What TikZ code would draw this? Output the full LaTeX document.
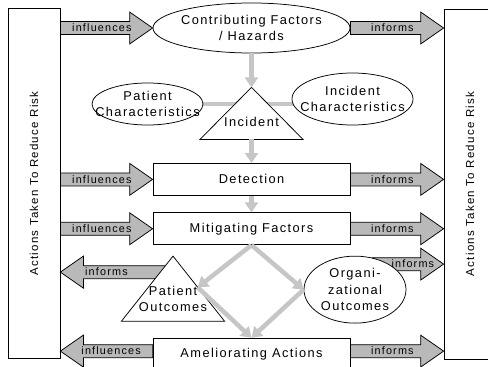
\documentclass[tikz,border=0pt]{standalone}
\usepackage{fontspec}
\setmainfont[LetterSpace=11]{Liberation Sans}
\usepackage{tikz}
\usetikzlibrary{shapes.geometric,arrows.meta,calc}
\pgfdeclarelayer{background}
\pgfdeclarelayer{foreground}
\pgfsetlayers{background,main,foreground}
\newcommand{\nodefont}{\fontsize{12.8}{16.5}\selectfont}
\newcommand{\sidefont}{\fontsize{11.5}{14}\selectfont}
\newcommand{\arrowfont}{\fontsize{10.8}{12}\selectfont}
\tikzstyle{lado}=[draw, line width=0.75pt, minimum width=52pt,
  minimum height=350pt, inner sep=0pt]
\tikzstyle{caja}=[draw, fill=white, line width=0.75pt, minimum width=197pt,
  minimum height=32pt, inner sep=0pt, font=\nodefont]
\tikzstyle{nube}=[draw, ellipse, fill=white, line width=0.75pt,
  inner ysep=0pt, align=center, font=\nodefont]
\tikzstyle{tri}=[draw, fill=white, line width=0.75pt]
\tikzstyle{texto}=[align=center, font=\nodefont, inner sep=0pt]
\tikzstyle{flecha}=[draw, line width=0.75pt, fill=gray!55]
\tikzstyle{flechatexto}=[font=\arrowfont, inner sep=0pt]
\tikzstyle{conector}=[draw, line width=4.5pt, color=gray!45,
  -{Triangle[length=10pt,width=13pt]}]
% fat grey arrow: [label pos]{label name}{from}{to}{text}
\newcommand{\fatarrow}[5][0.45]{%
  \coordinate (fa-s) at (#3);
  \coordinate (fa-e) at (#4);
  \coordinate (fa-h) at ($(fa-e)!23pt!(fa-s)$);
  \begin{pgfonlayer}{background}
    \path [flecha] ($(fa-s)+(0,6.5)$) -- ($(fa-h)+(0,6.5)$)
      -- ($(fa-h)+(0,16)$) -- (fa-e) -- ($(fa-h)+(0,-16)$)
      -- ($(fa-h)+(0,-6.5)$) -- ($(fa-s)+(0,-6.5)$) -- cycle;
  \end{pgfonlayer}
  \begin{pgfonlayer}{foreground}
    \path ($(fa-s)!#1!(fa-e)$) node (#2)[flechatexto] {#5};
  \end{pgfonlayer}}

\begin{document}
\begin{tikzpicture}[x=1pt,y=-1pt]
\useasboundingbox (0,0) rectangle (488,367);

  % Side boxes
\path (34,183.5) node (L)[lado] {};
\path (470,184) node (R)[lado] {};
\path (L) node (Ltxt)[texto, rotate=90, font=\sidefont] {Actions Taken To Reduce Risk};
\path (R) node (Rtxt)[texto, rotate=90, font=\sidefont] {Actions Taken To Reduce Risk};

  % Incident part
\path (251.5,28) node (cf)[nube, minimum width=197pt, minimum height=50pt,
  inner xsep=-4pt] {Contributing Factors\\/ Hazards};
\path (147.5,104) node (pc)[nube, minimum width=111pt, minimum height=42pt,
  inner xsep=-17pt] {Patient\\Characteristics};
\path (352.5,99) node (ic)[nube, minimum width=121pt, minimum height=52pt,
  inner xsep=-14pt] {Incident\\Characteristics};
\path (cf.south)+(0,34) coordinate (inc-apex);
\draw [tri] (inc-apex) -- +(51.5,52) coordinate (inc-r)
  -- +(-51.5,52) coordinate (inc-l) -- cycle;
\path (inc-apex)+(0,35) node (inc)[texto] {Incident};
\path (inc-apex)+(0,52) coordinate (inc-base);

  % Boxes
\path (inc-base)+(0,40) node (det)[caja] {Detection};
\path (det.south)+(0,33) node (mit)[caja] {Mitigating Factors};
\path (mit.south)+(0,109) node (ame)[caja] {Ameliorating Actions};

  % Outcomes
\path (mit.south)+(-78.5,11) coordinate (po-apex);
\draw [tri] (po-apex) -- +(51.5,65) coordinate (po-r)
  -- +(-51.5,65) coordinate (po-l) -- cycle;
\path (po-apex)+(0,43) node (po)[texto] {Patient\\Outcomes};
\path (mit.south)+(103.5,44.5) node (org)[nube, minimum width=102pt,
  minimum height=67pt, inner xsep=-1pt] {Organi-\\zational\\Outcomes};
\coordinate (po-side) at ($(po-apex)!0.48!(po-r)$);

  % Grey connectors
\begin{pgfonlayer}{background}
  \path [draw, line width=4.5pt, color=gray!45] (pc.center) -- (ic.center |- pc.center);
\end{pgfonlayer}
\path [conector] (cf.south) -- (inc-apex);
\path [conector] (inc-base) -- (det.north);
\path [conector] (det.south) -- (mit.north);
\path [conector] (mit.south) -- (po-side);
\path [conector] (mit.south) -- (org.west);
\path [conector] (po-side) -- (ame.north);
\path [conector] (org.west) -- (ame.north);

  % Fat arrows
\path (po-apex)+(-8,16) coordinate (po-out);
\path (org)+(17,-25.5) coordinate (org-out);
\path (ame.west)+(0,-3) coordinate (ame-w);
\path (ame.east)+(0,-3) coordinate (ame-e);
\fatarrow{a1}{L.east |- cf.west}{cf.west}{influences}
\fatarrow{a2}{cf.east}{R.west |- cf.east}{informs}
\fatarrow{a3}{L.east |- det.west}{det.west}{influences}
\fatarrow{a4}{det.east}{R.west |- det.east}{informs}
\fatarrow{a5}{L.east |- mit.west}{mit.west}{influences}
\fatarrow{a6}{mit.east}{R.west |- mit.east}{informs}
\fatarrow[0.56]{a7}{po-out}{L.east |- po-out}{informs}
\fatarrow[0.57]{a8}{org-out}{R.west |- org-out}{informs}
\fatarrow{a9}{ame-w}{L.east |- ame-w}{influences}
\fatarrow{a10}{ame-e}{R.west |- ame-e}{informs}
\end{tikzpicture}
\end{document}
